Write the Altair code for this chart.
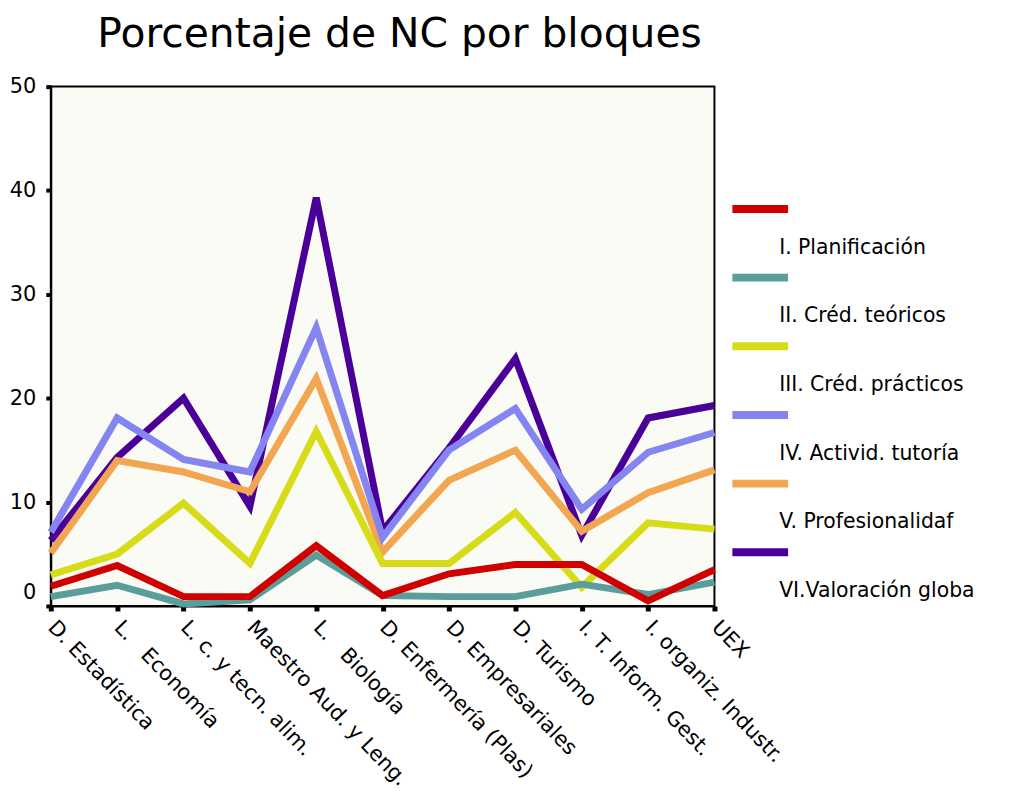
import altair as alt
import pandas as pd

categories = [
    "D. Estadística",
    "L.\u00a0\u00a0 Economía",
    "L. c. y tecn. alim.",
    "Maestro Aud. y Leng.",
    "L.\u00a0\u00a0 Biología",
    "D. Enfermería (Plas)",
    "D. Empresariales",
    "D. Turismo",
    "I. T. Inform. Gest.",
    "I. organiz. Industr.",
    "UEX",
]

series = [
    "I. Planificación",
    "II. Créd. teóricos",
    "III. Créd. prácticos",
    "IV. Activid. tutoría",
    "V. Profesionalidaf",
    "VI.Valoración globa",
]

planificacion = [1.9, 3.9, 0.9, 0.9, 5.8, 1.0, 3.1, 4.0, 4.0, 0.5, 3.5]
cred_teoricos = [0.9, 2.0, 0.2, 0.6, 4.9, 1.0, 0.9, 0.9, 2.1, 1.1, 2.3]
cred_practicos = [3.0, 5.0, 9.9, 4.1, 16.8, 4.1, 4.1, 9.0, 1.8, 8.0, 7.4]
activ_tutoria = [7.1, 18.1, 14.1, 12.9, 26.8, 6.6, 15.0, 19.0, 9.3, 14.8, 16.7]
profesionalidad = [5.1, 14.0, 12.9, 11.0, 21.9, 5.2, 12.1, 15.0, 7.2, 10.9, 13.1]
valoracion = [6.3, 14.3, 20.0, 9.6, 39.3, 7.2, 15.2, 23.8, 6.8, 18.1, 19.3]

colors = ["#D00000", "#5A9E9C", "#D7DC18", "#8585F2", "#F2A652", "#4A0098"]

values = [planificacion, cred_teoricos, cred_practicos, activ_tutoria, profesionalidad, valoracion]

rows = []
for s, vals in zip(series, values):
    for c, v in zip(categories, vals):
        rows.append({"cat": c, "series": s, "value": v})
df = pd.DataFrame(rows)
legend_df = pd.DataFrame({"series": series})

color_scale = alt.Scale(domain=series, range=colors)
FONT = "DejaVu Sans"

x_enc = alt.X(
    "cat:N",
    sort=categories,
    scale=alt.Scale(type="point", padding=0),
    axis=alt.Axis(
        title=None,
        labelAngle=46,
        labelAlign="left",
        labelBaseline="middle",
        labelFont=FONT,
        labelFontSize=21,
        labelColor="black",
        labelPadding=13,
        labelLimit=0,
        labelOverlap=False,
        domainColor="black",
        domainWidth=2,
        tickColor="black",
        tickSize=5,
        tickWidth=5,
    ),
)
y_enc = alt.Y(
    "value:Q",
    scale=alt.Scale(domain=[0, 50], nice=False, zero=True),
    axis=alt.Axis(
        title=None,
        values=[0, 10, 20, 30, 40, 50],
        grid=False,
        labelFont=FONT,
        labelFontSize=21,
        labelColor="black",
        labelPadding=10,
        labelOffset={"condition": {"test": "datum.value === 0", "value": -14}, "value": 0},
        domainColor="black",
        domainWidth=2,
        tickColor="black",
        tickSize=5,
        tickWidth=4,
    ),
)

line_layers = []
for s in reversed(series):
    line_layers.append(
        alt.Chart(df)
        .transform_filter(alt.datum.series == s)
        .mark_line(strokeWidth=7, strokeJoin="miter")
        .encode(
            x=x_enc,
            y=y_enc,
            color=alt.Color("series:N", scale=color_scale, legend=None),
        )
    )
lines = alt.layer(*line_layers)

legend_y = alt.Y(
    "series:N",
    sort=series,
    scale=alt.Scale(type="point", domain=series, range=[123, 468], padding=0),
    axis=None,
)
legend_rules = alt.Chart(legend_df).mark_rule(strokeWidth=8).encode(
    x=alt.value(685),
    x2=alt.value(741),
    y=legend_y,
    color=alt.Color("series:N", scale=color_scale, legend=None),
)
legend_text = alt.Chart(legend_df).mark_text(
    align="left", baseline="middle", dy=39, font=FONT, fontSize=20.5, color="black"
).encode(
    x=alt.value(732),
    y=legend_y,
    text="series:N",
)
legend = alt.layer(legend_rules, legend_text)

chart = (
    alt.layer(lines, legend)
    .resolve_scale(y="independent")
    .properties(
        width=667,
        height=522,
        title=alt.TitleParams(
            "Porcentaje de NC por bloques",
            font=FONT,
            fontSize=41,
            fontWeight="normal",
            color="black",
            anchor="middle",
            dx=17,
            offset=20,
        ),
        autosize=alt.AutoSizeParams(type="none"),
        padding={"left": 43, "top": 77, "right": 290, "bottom": 195},
    )
    .configure_view(fill="#FBFBF5", stroke="black", strokeWidth=2)
)

chart.save("out.html", embed_options={"renderer": "svg", "actions": False})
